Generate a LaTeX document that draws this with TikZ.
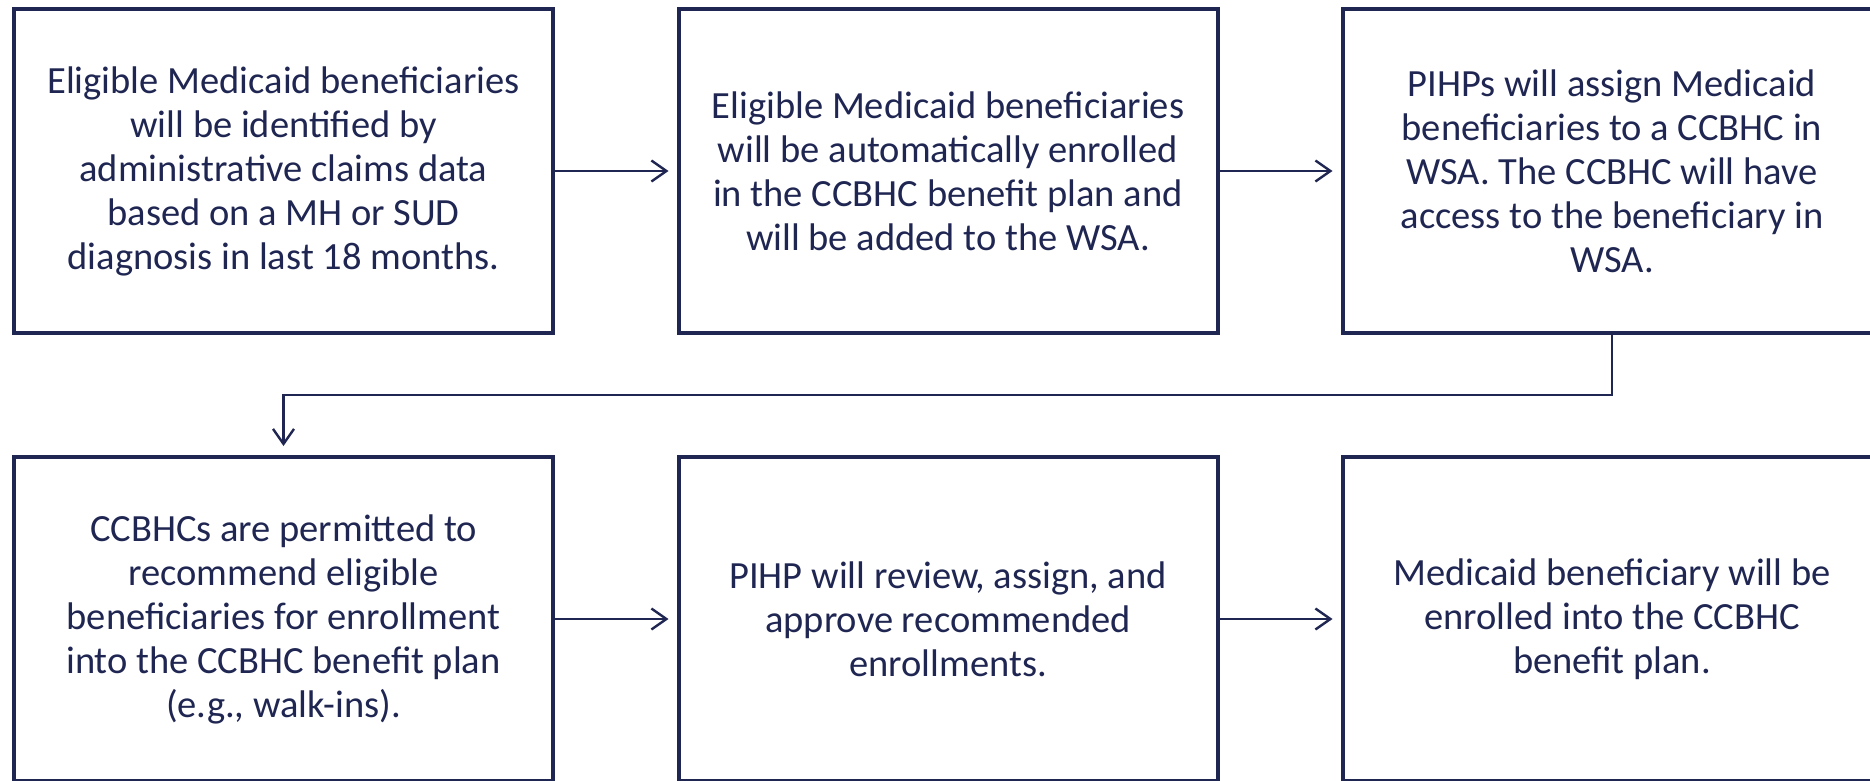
\documentclass[tikz,border=0pt]{standalone}
\usepackage{fontspec}
\setmainfont{Carlito}
\usetikzlibrary{arrows.meta}
\definecolor{navy}{RGB}{31,38,82}
\begin{document}
\begin{tikzpicture}[x=1pt,y=-1pt,
  stepbox/.style={draw=navy, line width=4pt, minimum width=539pt, minimum height=324pt,
    inner sep=0pt, align=center, text=navy, font=\fontsize{38.5}{44}\selectfont},
  flow/.style={draw=navy, line width=2.4pt,
    -{Straight Barb[length=15pt,width=21pt,line width=2.4pt]}, shorten >=8pt}]
\useasboundingbox (0,0) rectangle (1870,780);
% top row
\node[stepbox] (b1) at (283.5,171) {Eligible Medicaid beneficiaries\\will be identified by\\administrative claims data\\based on a MH or SUD\\diagnosis in last 18 months.};
\node[stepbox] (b2) at (948,171) {Eligible Medicaid beneficiaries\\will be automatically enrolled\\in the CCBHC benefit plan and\\will be added to the WSA.};
\node[stepbox] (b3) at (1612,171) {PIHPs will assign Medicaid\\beneficiaries to a CCBHC in\\WSA. The CCBHC will have\\access to the beneficiary in\\WSA.};
% bottom row
\node[stepbox] (b4) at (283.5,619) {CCBHCs are permitted to\\recommend eligible\\beneficiaries for enrollment\\into the CCBHC benefit plan\\(e.g., walk-ins).};
\node[stepbox] (b5) at (948,619) {PIHP will review, assign, and\\approve recommended\\enrollments.};
\node[stepbox] (b6) at (1612,619) {Medicaid beneficiary will be\\enrolled into the CCBHC\\benefit plan.};
% connectors
\draw[flow] (b1.east) -- (b2.west);
\draw[flow] (b2.east) -- (b3.west);
\draw[flow] (b4.east) -- (b5.west);
\draw[flow] (b5.east) -- (b6.west);
\coordinate (turn) at (1612,395);
\draw[flow, shorten >=9pt] (b3.south) -- (turn) -| (b4.north);
\end{tikzpicture}
\end{document}
